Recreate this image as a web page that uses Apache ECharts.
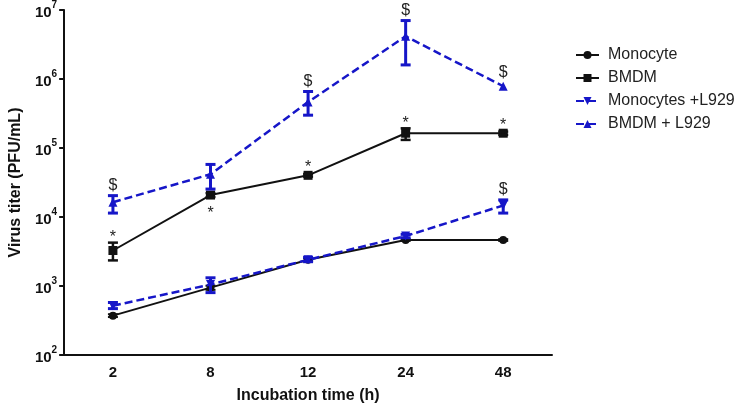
<!DOCTYPE html>
<html>
<head>
<meta charset="utf-8">
<script src="https://cdn.jsdelivr.net/npm/echarts@6/dist/echarts.min.js"></script>
<style>html,body{margin:0;padding:0;background:#fff}#c{width:740px;height:409px}</style>
</head>
<body>
<div id="c"></div>
<script>
const categories = ['2', '8', '12', '24', '48'];
const yTicks = [1e2, 1e3, 1e4, 1e5, 1e6, 1e7];

const monocyte      = [372, 946, 2400, 4640, 4640];
const monocyteLow   = [355, 880, 2300, 4500, 4500];
const monocyteHigh  = [390, 1010, 2500, 4780, 4780];

const bmdm          = [3270, 20800, 40200, 163800, 163800];
const bmdmLow       = [2350, 19500, 38500, 131000, 155000];
const bmdmHigh      = [4250, 22200, 42000, 193000, 173000];

const monoL929      = [518, 1050, 2400, 5300, 14700];
const monoL929Low   = [470, 802, 2250, 5000, 11400];
const monoL929High  = [577, 1315, 2600, 5600, 17700];

const bmdmL929      = [16400, 41600, 464000, 4160000, 785000];
const bmdmL929Low   = [11400, 25400, 299000, 1600000, 785000];
const bmdmL929High  = [20400, 57800, 659000, 7030000, 785000];

const monocyteMarks = ['', '', '', '', ''];
const bmdmMarks     = ['*', '*', '*', '*', '*'];
const monoL929Marks = ['', '', '', '', '$'];
const bmdmL929Marks = ['$', '', '$', '$', '$'];

const BLUE = '#1616c8';
const BLACK = '#111111';
const FONT = '"Liberation Sans", Arial, sans-serif';

function errData(lo, hi) {
  return categories.map((c, i) => [i, lo[i], hi[i]]);
}

function errSeries(name, lo, hi, marks, color, width, markBelowIdx) {
  return {
    type: 'custom',
    name: name + ' err',
    data: errData(lo, hi),
    clip: false,
    z: 3,
    silent: true,
    renderItem: function (params, api) {
      const i = params.dataIndex;
      const pLo = api.coord([api.value(0), api.value(1)]);
      const pHi = api.coord([api.value(0), api.value(2)]);
      const x = pLo[0];
      const cap = 5;
      const children = [];
      if (Math.abs(pLo[1] - pHi[1]) > 1) {
        const ls = { stroke: color, lineWidth: width };
        children.push({ type: 'line', shape: { x1: x, y1: pHi[1], x2: x, y2: pLo[1] }, style: ls });
        children.push({ type: 'line', shape: { x1: x - cap, y1: pHi[1], x2: x + cap, y2: pHi[1] }, style: ls });
        children.push({ type: 'line', shape: { x1: x - cap, y1: pLo[1], x2: x + cap, y2: pLo[1] }, style: ls });
      }
      const m = marks[i];
      if (m) {
        const below = (i === markBelowIdx);
        const top = Math.min(pHi[1], pLo[1] - 4);
        let ty;
        if (below) ty = Math.max(pLo[1], pHi[1] + 4) + 16;
        else ty = m === '*' ? top - 5 : top - 10;
        children.push({
          type: 'text',
          style: {
            text: m, x: x, y: ty, align: 'center', verticalAlign: 'middle',
            fontSize: 16, fontFamily: FONT, fill: '#222'
          }
        });
      }
      return { type: 'group', children: children };
    }
  };
}

const chart = echarts.init(document.getElementById('c'), null, { renderer: 'canvas' });
chart.setOption({
  animation: false,
  backgroundColor: '#ffffff',
  grid: { left: 58, right: 188, top: 10, bottom: 49, containLabel: false },
  legend: {
    orient: 'vertical',
    left: 575,
    top: 47,
    padding: 0,
    itemWidth: 23,
    itemHeight: 10,
    itemGap: 7,
    data: ['Monocyte', 'BMDM', 'Monocytes +L929', 'BMDM + L929'],
    textStyle: { fontSize: 16, fontFamily: FONT, color: '#222', padding: [0, 0, 0, 4] }
  },
  xAxis: {
    type: 'category',
    data: categories,
    boundaryGap: true,
    name: 'Incubation time (h)',
    nameLocation: 'middle',
    nameGap: 33,
    nameTextStyle: { fontSize: 16, fontWeight: 'bold', fontFamily: FONT, color: BLACK },
    axisLine: { lineStyle: { color: BLACK, width: 2 } },
    axisTick: { alignWithLabel: true, length: 5, lineStyle: { color: BLACK, width: 2 } },
    axisLabel: { fontSize: 15, fontWeight: 'bold', fontFamily: FONT, color: BLACK, margin: 10 },
    splitLine: { show: false }
  },
  yAxis: {
    type: 'log',
    logBase: 10,
    min: yTicks[0],
    max: yTicks[yTicks.length - 1],
    name: 'Virus titer (PFU/mL)',
    nameLocation: 'middle',
    nameGap: 40,
    nameTextStyle: { fontSize: 16, fontWeight: 'bold', fontFamily: FONT, color: BLACK },
    axisLine: { show: true, lineStyle: { color: BLACK, width: 2 } },
    axisTick: { show: true, length: 5, lineStyle: { color: BLACK, width: 2 } },
    minorTick: { show: false },
    splitLine: { show: false },
    axisLabel: {
      margin: 7,
      formatter: function (v) {
        const e = Math.round(Math.log10(v));
        return '{b|10}{s|' + e + '}';
      },
      rich: {
        b: { fontSize: 15, fontWeight: 'bold', fontFamily: FONT, color: BLACK, lineHeight: 20, verticalAlign: 'bottom' },
        s: { fontSize: 10, fontWeight: 'bold', fontFamily: FONT, color: BLACK, lineHeight: 10, verticalAlign: 'top' }
      }
    }
  },
  series: [
    {
      name: 'Monocyte', type: 'line', data: monocyte, z: 2,
      symbol: 'circle', symbolSize: 8,
      itemStyle: { color: BLACK },
      lineStyle: { color: BLACK, width: 2 }
    },
    {
      name: 'BMDM', type: 'line', data: bmdm, z: 2,
      symbol: 'rect', symbolSize: 9,
      itemStyle: { color: BLACK },
      lineStyle: { color: BLACK, width: 2 }
    },
    {
      name: 'Monocytes +L929', type: 'line', data: monoL929, z: 4,
      symbol: 'triangle', symbolRotate: 180, symbolSize: 9,
      itemStyle: { color: BLUE },
      lineStyle: { color: BLUE, width: 2.5, type: [8, 4] }
    },
    {
      name: 'BMDM + L929', type: 'line', data: bmdmL929, z: 4,
      symbol: 'triangle', symbolSize: 9,
      itemStyle: { color: BLUE },
      lineStyle: { color: BLUE, width: 2.5, type: [8, 4] }
    },
    errSeries('Monocyte', monocyteLow, monocyteHigh, monocyteMarks, BLACK, 2, -1),
    errSeries('BMDM', bmdmLow, bmdmHigh, bmdmMarks, BLACK, 2.5, 1),
    errSeries('Monocytes +L929', monoL929Low, monoL929High, monoL929Marks, BLUE, 3, -1),
    errSeries('BMDM + L929', bmdmL929Low, bmdmL929High, bmdmL929Marks, BLUE, 3, -1)
  ]
});
</script>
</body>
</html>
